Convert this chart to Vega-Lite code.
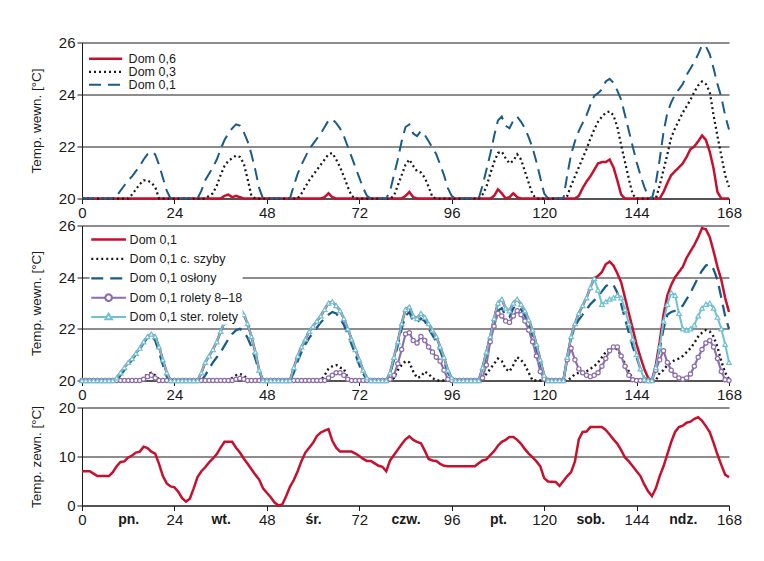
{
"$schema":"https://vega.github.io/schema/vega-lite/v6.json",
"background":"white",
"padding":{"left":29,"top":35.5,"right":30,"bottom":30},
"bounds":"flush",
"spacing":27,
"config":{
"font":"Liberation Sans",
"view":{"stroke":null},
"axis":{"labelFontSize":15,"labelColor":"#1a1a1a","titleFontSize":13.5,"titleFontWeight":"normal","titleColor":"#1a1a1a","domainColor":"#1a1a1a","tickColor":"#1a1a1a","gridColor":"#1a1a1a","gridOpacity":1,"gridWidth":1,"tickSize":5,"labelPadding":2,"labelFlush":false,"labelOverlap":false},
"axisY":{"titlePadding":15},
"legend":{"labelFontSize":12.5,"labelColor":"#1a1a1a"}
},
"datasets":{"d":[
{"h":0,"a":20,"b":20,"c":20,"d":20,"e":20,"f":20,"g":20,"t":7},
{"h":1,"a":20,"b":20,"c":20,"d":20,"e":20,"f":20,"g":20,"t":7},
{"h":2,"a":20,"b":20,"c":20,"d":20,"e":20,"f":20,"g":20,"t":7},
{"h":3,"a":20,"b":20,"c":20,"d":20,"e":20,"f":20,"g":20,"t":6.5},
{"h":4,"a":20,"b":20,"c":20,"d":20,"e":20,"f":20,"g":20,"t":6},
{"h":5,"a":20,"b":20,"c":20,"d":20,"e":20,"f":20,"g":20,"t":6},
{"h":6,"a":20,"b":20,"c":20,"d":20,"e":20,"f":20,"g":20,"t":6},
{"h":7,"a":20,"b":20,"c":20,"d":20,"e":20,"f":20,"g":20,"t":6},
{"h":8,"a":20,"b":20,"c":20,"d":20,"e":20,"f":20,"g":20,"t":6.8},
{"h":9,"a":20,"b":20,"c":20.1,"d":20,"e":20,"f":20,"g":20.1,"t":8},
{"h":10,"a":20,"b":20,"c":20.3,"d":20,"e":20.2,"f":20,"g":20.3,"t":8.9},
{"h":11,"a":20,"b":20,"c":20.5,"d":20,"e":20.4,"f":20,"g":20.5,"t":9},
{"h":12,"a":20,"b":20,"c":20.7,"d":20,"e":20.6,"f":20,"g":20.7,"t":9.8},
{"h":13,"a":20,"b":20.15,"c":20.85,"d":20,"e":20.8,"f":20,"g":20.85,"t":10.2},
{"h":14,"a":20,"b":20.35,"c":21.05,"d":20,"e":21,"f":20,"g":21.05,"t":10.8},
{"h":15,"a":20,"b":20.55,"c":21.25,"d":20,"e":21.2,"f":20,"g":21.25,"t":11},
{"h":16,"a":20,"b":20.7,"c":21.5,"d":20.1,"e":21.45,"f":20.05,"g":21.5,"t":12},
{"h":17,"a":20,"b":20.7,"c":21.7,"d":20.25,"e":21.65,"f":20.15,"g":21.7,"t":11.7},
{"h":18,"a":20,"b":20.6,"c":21.8,"d":20.3,"e":21.75,"f":20.2,"g":21.8,"t":11},
{"h":19,"a":20,"b":20.45,"c":21.7,"d":20.2,"e":21.55,"f":20.1,"g":21.7,"t":10.6},
{"h":20,"a":20,"b":20,"c":21.3,"d":20.05,"e":21.1,"f":20,"g":21.3,"t":8.5},
{"h":21,"a":20,"b":20,"c":20.8,"d":20,"e":20.6,"f":20,"g":20.8,"t":6},
{"h":22,"a":20,"b":20,"c":20.3,"d":20,"e":20.15,"f":20,"g":20.3,"t":4.5},
{"h":23,"a":20,"b":20,"c":20,"d":20,"e":20,"f":20,"g":20,"t":3.9},
{"h":24,"a":20,"b":20,"c":20,"d":20,"e":20,"f":20,"g":20,"t":3.7},
{"h":25,"a":20,"b":20,"c":20,"d":20,"e":20,"f":20,"g":20,"t":2.8},
{"h":26,"a":20,"b":20,"c":20,"d":20,"e":20,"f":20,"g":20,"t":1.5},
{"h":27,"a":20,"b":20,"c":20,"d":20,"e":20,"f":20,"g":20,"t":0.8},
{"h":28,"a":20,"b":20,"c":20,"d":20,"e":20,"f":20,"g":20,"t":1.4},
{"h":29,"a":20,"b":20,"c":20,"d":20,"e":20,"f":20,"g":20,"t":3.5},
{"h":30,"a":20,"b":20,"c":20,"d":20,"e":20,"f":20,"g":20,"t":5.8},
{"h":31,"a":20,"b":20,"c":20.3,"d":20,"e":20,"f":20,"g":20.3,"t":7},
{"h":32,"a":20,"b":20,"c":20.7,"d":20,"e":20.2,"f":20,"g":20.7,"t":7.8},
{"h":33,"a":20,"b":20.1,"c":20.95,"d":20,"e":20.45,"f":20,"g":20.95,"t":8.8},
{"h":34,"a":20,"b":20.2,"c":21.2,"d":20,"e":20.7,"f":20,"g":21.2,"t":9.6},
{"h":35,"a":20,"b":20.5,"c":21.5,"d":20,"e":20.9,"f":20,"g":21.5,"t":10.5},
{"h":36,"a":20,"b":20.9,"c":21.9,"d":20,"e":21.1,"f":20,"g":21.9,"t":11.8},
{"h":37,"a":20.1,"b":21.25,"c":22.25,"d":20,"e":21.35,"f":20,"g":22.25,"t":13},
{"h":38,"a":20.15,"b":21.45,"c":22.5,"d":20,"e":21.6,"f":20,"g":22.5,"t":13},
{"h":39,"a":20.05,"b":21.55,"c":22.7,"d":20.1,"e":21.8,"f":20,"g":22.7,"t":13},
{"h":40,"a":20.1,"b":21.65,"c":22.85,"d":20.2,"e":21.95,"f":20.05,"g":22.85,"t":11.8},
{"h":41,"a":20.05,"b":21.6,"c":22.8,"d":20.25,"e":22,"f":20.08,"g":22.8,"t":10.8},
{"h":42,"a":20,"b":21.35,"c":22.55,"d":20.2,"e":21.9,"f":20.05,"g":22.55,"t":9.6},
{"h":43,"a":20,"b":20.75,"c":22.2,"d":20.05,"e":21.65,"f":20,"g":22.2,"t":8.5},
{"h":44,"a":20,"b":20.1,"c":21.7,"d":20,"e":21.3,"f":20,"g":21.7,"t":7.4},
{"h":45,"a":20,"b":20,"c":21.1,"d":20,"e":20.85,"f":20,"g":21.1,"t":6.3},
{"h":46,"a":20,"b":20,"c":20.4,"d":20,"e":20.35,"f":20,"g":20.4,"t":5.3},
{"h":47,"a":20,"b":20,"c":20,"d":20,"e":20,"f":20,"g":20,"t":3.5},
{"h":48,"a":20,"b":20,"c":20,"d":20,"e":20,"f":20,"g":20,"t":2.6},
{"h":49,"a":20,"b":20,"c":20,"d":20,"e":20,"f":20,"g":20,"t":1.7},
{"h":50,"a":20,"b":20,"c":20,"d":20,"e":20,"f":20,"g":20,"t":0.6},
{"h":51,"a":20,"b":20,"c":20,"d":20,"e":20,"f":20,"g":20,"t":0},
{"h":52,"a":20,"b":20,"c":20,"d":20,"e":20,"f":20,"g":20,"t":0.2},
{"h":53,"a":20,"b":20,"c":20,"d":20,"e":20,"f":20,"g":20,"t":1.9},
{"h":54,"a":20,"b":20,"c":20,"d":20,"e":20,"f":20,"g":20,"t":3.8},
{"h":55,"a":20,"b":20,"c":20.5,"d":20,"e":20.3,"f":20,"g":20.5,"t":5.2},
{"h":56,"a":20,"b":20,"c":20.95,"d":20,"e":20.75,"f":20,"g":20.95,"t":7},
{"h":57,"a":20,"b":20.2,"c":21.3,"d":20,"e":21.1,"f":20,"g":21.3,"t":9.1},
{"h":58,"a":20,"b":20.45,"c":21.6,"d":20,"e":21.4,"f":20,"g":21.6,"t":10.8},
{"h":59,"a":20,"b":20.7,"c":21.9,"d":20,"e":21.65,"f":20,"g":21.9,"t":11.8},
{"h":60,"a":20,"b":20.9,"c":22.1,"d":20,"e":21.85,"f":20,"g":22.1,"t":12.8},
{"h":61,"a":20,"b":21.1,"c":22.3,"d":20,"e":22.05,"f":20,"g":22.3,"t":14.2},
{"h":62,"a":20,"b":21.3,"c":22.5,"d":20,"e":22.25,"f":20,"g":22.5,"t":14.9},
{"h":63,"a":20.05,"b":21.5,"c":22.75,"d":20.2,"e":22.4,"f":20,"g":22.75,"t":15.3},
{"h":64,"a":20.2,"b":21.7,"c":23,"d":20.45,"e":22.55,"f":20.1,"g":23,"t":15.6},
{"h":65,"a":20.05,"b":21.75,"c":23.05,"d":20.55,"e":22.65,"f":20.2,"g":23.05,"t":13.2},
{"h":66,"a":20,"b":21.5,"c":22.9,"d":20.6,"e":22.6,"f":20.3,"g":22.9,"t":11.8},
{"h":67,"a":20,"b":21.2,"c":22.7,"d":20.5,"e":22.4,"f":20.3,"g":22.7,"t":11},
{"h":68,"a":20,"b":20.85,"c":22.4,"d":20.45,"e":22.15,"f":20.2,"g":22.4,"t":11},
{"h":69,"a":20,"b":20.45,"c":22,"d":20.1,"e":21.8,"f":20.05,"g":22,"t":11},
{"h":70,"a":20,"b":20.1,"c":21.6,"d":20,"e":21.4,"f":20,"g":21.6,"t":11},
{"h":71,"a":20,"b":20,"c":21.2,"d":20,"e":21,"f":20,"g":21.2,"t":10.6},
{"h":72,"a":20,"b":20,"c":20.8,"d":20,"e":20.6,"f":20,"g":20.8,"t":10.1},
{"h":73,"a":20,"b":20,"c":20.4,"d":20,"e":20.25,"f":20,"g":20.4,"t":9.5},
{"h":74,"a":20,"b":20,"c":20.1,"d":20,"e":20.05,"f":20,"g":20.1,"t":9.1},
{"h":75,"a":20,"b":20,"c":20,"d":20,"e":20,"f":20,"g":20,"t":9.1},
{"h":76,"a":20,"b":20,"c":20,"d":20,"e":20,"f":20,"g":20,"t":8.6},
{"h":77,"a":20,"b":20,"c":20,"d":20,"e":20,"f":20,"g":20,"t":8.1},
{"h":78,"a":20,"b":20,"c":20,"d":20,"e":20,"f":20,"g":20,"t":7.9},
{"h":79,"a":20,"b":20,"c":20,"d":20,"e":20,"f":20,"g":20,"t":7},
{"h":80,"a":20,"b":20,"c":20.3,"d":20,"e":20.25,"f":20.05,"g":20.3,"t":9.2},
{"h":81,"a":20,"b":20.1,"c":20.9,"d":20.1,"e":20.8,"f":20.2,"g":20.9,"t":10.3},
{"h":82,"a":20,"b":20.5,"c":21.5,"d":20.4,"e":21.35,"f":20.65,"g":21.5,"t":11.4},
{"h":83,"a":20,"b":20.9,"c":22.2,"d":20.6,"e":22,"f":21.2,"g":22.2,"t":12.5},
{"h":84,"a":20.1,"b":21.3,"c":22.75,"d":20.75,"e":22.5,"f":21.8,"g":22.75,"t":13.5},
{"h":85,"a":20.25,"b":21.5,"c":22.85,"d":20.7,"e":22.65,"f":21.85,"g":22.85,"t":14.1},
{"h":86,"a":20.05,"b":21.25,"c":22.5,"d":20.35,"e":22.3,"f":21.55,"g":22.5,"t":13.4},
{"h":87,"a":20,"b":21.05,"c":22.4,"d":20.1,"e":22.25,"f":21.45,"g":22.4,"t":13},
{"h":88,"a":20,"b":21,"c":22.6,"d":20.15,"e":22.4,"f":21.7,"g":22.6,"t":12.7},
{"h":89,"a":20,"b":20.8,"c":22.45,"d":20.35,"e":22.3,"f":21.55,"g":22.45,"t":11.2},
{"h":90,"a":20,"b":20.45,"c":22.2,"d":20.25,"e":22,"f":21.3,"g":22.2,"t":9.5},
{"h":91,"a":20,"b":20.05,"c":21.95,"d":20.1,"e":21.75,"f":21.1,"g":21.95,"t":9.2},
{"h":92,"a":20,"b":20,"c":21.7,"d":20,"e":21.5,"f":20.9,"g":21.7,"t":9.1},
{"h":93,"a":20,"b":20,"c":21.3,"d":20,"e":21.15,"f":20.75,"g":21.3,"t":8.5},
{"h":94,"a":20,"b":20,"c":20.9,"d":20,"e":20.75,"f":20.4,"g":20.9,"t":8.1},
{"h":95,"a":20,"b":20,"c":20.4,"d":20,"e":20.3,"f":20.05,"g":20.4,"t":8},
{"h":96,"a":20,"b":20,"c":20.1,"d":20,"e":20.05,"f":20,"g":20.1,"t":8},
{"h":97,"a":20,"b":20,"c":20,"d":20,"e":20,"f":20,"g":20,"t":8},
{"h":98,"a":20,"b":20,"c":20,"d":20,"e":20,"f":20,"g":20,"t":8},
{"h":99,"a":20,"b":20,"c":20,"d":20,"e":20,"f":20,"g":20,"t":8},
{"h":100,"a":20,"b":20,"c":20,"d":20,"e":20,"f":20,"g":20,"t":8},
{"h":101,"a":20,"b":20,"c":20,"d":20,"e":20,"f":20,"g":20,"t":8},
{"h":102,"a":20,"b":20,"c":20,"d":20,"e":20,"f":20,"g":20,"t":8},
{"h":103,"a":20,"b":20,"c":20,"d":20,"e":20,"f":20,"g":20,"t":8.6},
{"h":104,"a":20,"b":20.15,"c":20.5,"d":20.1,"e":20.4,"f":20.1,"g":20.5,"t":9.2},
{"h":105,"a":20,"b":20.45,"c":21.1,"d":20.25,"e":21,"f":20.6,"g":21.1,"t":9.4},
{"h":106,"a":20,"b":20.95,"c":21.7,"d":20.45,"e":21.55,"f":21.5,"g":21.7,"t":10.3},
{"h":107,"a":20.1,"b":21.4,"c":22.4,"d":20.65,"e":22.2,"f":22.1,"g":22.4,"t":11.1},
{"h":108,"a":20.35,"b":21.75,"c":23,"d":20.85,"e":22.7,"f":22.6,"g":23,"t":12.2},
{"h":109,"a":20.2,"b":21.8,"c":23.15,"d":20.75,"e":22.8,"f":22.5,"g":23.15,"t":13},
{"h":110,"a":20,"b":21.55,"c":22.8,"d":20.45,"e":22.5,"f":22.3,"g":22.8,"t":13.4},
{"h":111,"a":20.05,"b":21.35,"c":22.7,"d":20.35,"e":22.45,"f":22.25,"g":22.7,"t":14},
{"h":112,"a":20.2,"b":21.45,"c":23,"d":20.6,"e":22.8,"f":22.5,"g":23,"t":14},
{"h":113,"a":20.05,"b":21.7,"c":23.15,"d":20.9,"e":22.9,"f":22.7,"g":23.15,"t":13.4},
{"h":114,"a":20,"b":21.5,"c":22.95,"d":20.8,"e":22.75,"f":22.55,"g":22.95,"t":12.6},
{"h":115,"a":20,"b":21.05,"c":22.7,"d":20.6,"e":22.5,"f":22.3,"g":22.7,"t":11.5},
{"h":116,"a":20,"b":20.6,"c":22.35,"d":20.3,"e":22.15,"f":21.95,"g":22.35,"t":10.6},
{"h":117,"a":20,"b":20.15,"c":21.95,"d":20,"e":21.7,"f":21.5,"g":21.95,"t":9.8},
{"h":118,"a":20,"b":20,"c":21.4,"d":20,"e":21.2,"f":20.95,"g":21.4,"t":9},
{"h":119,"a":20,"b":20,"c":20.8,"d":20,"e":20.65,"f":20.35,"g":20.8,"t":8},
{"h":120,"a":20,"b":20,"c":20.2,"d":20,"e":20.15,"f":20.05,"g":20.2,"t":5.6},
{"h":121,"a":20,"b":20,"c":20,"d":20,"e":20,"f":20,"g":20,"t":4.9},
{"h":122,"a":20,"b":20,"c":20,"d":20,"e":20,"f":20,"g":20,"t":4.85},
{"h":123,"a":20,"b":20,"c":20,"d":20,"e":20,"f":20,"g":20,"t":4.8},
{"h":124,"a":20,"b":20,"c":20,"d":20,"e":20,"f":20,"g":20,"t":4},
{"h":125,"a":20,"b":20,"c":20,"d":20,"e":20,"f":20,"g":20,"t":5},
{"h":126,"a":20,"b":20.1,"c":20.9,"d":20,"e":20.9,"f":20.8,"g":20.9,"t":6},
{"h":127,"a":20,"b":20.5,"c":21.7,"d":20.1,"e":21.65,"f":21.25,"g":21.7,"t":6.8},
{"h":128,"a":20,"b":20.85,"c":22.2,"d":20.25,"e":22.1,"f":20.8,"g":22.2,"t":9},
{"h":129,"a":20.1,"b":21.2,"c":22.6,"d":20.3,"e":22.35,"f":20.45,"g":22.6,"t":13.5},
{"h":130,"a":20.4,"b":21.55,"c":22.9,"d":20.3,"e":22.55,"f":20.3,"g":22.9,"t":15},
{"h":131,"a":20.65,"b":21.9,"c":23.2,"d":20.35,"e":22.75,"f":20.2,"g":23.2,"t":15.1},
{"h":132,"a":20.85,"b":22.3,"c":23.6,"d":20.45,"e":22.95,"f":20.15,"g":23.6,"t":16},
{"h":133,"a":21.1,"b":22.65,"c":23.95,"d":20.55,"e":23.1,"f":20.2,"g":23.95,"t":16},
{"h":134,"a":21.35,"b":22.95,"c":24.05,"d":20.7,"e":23.25,"f":20.3,"g":23.5,"t":16},
{"h":135,"a":21.4,"b":23.15,"c":24.2,"d":20.9,"e":23.45,"f":20.55,"g":22.95,"t":16},
{"h":136,"a":21.4,"b":23.3,"c":24.5,"d":21.1,"e":23.65,"f":20.85,"g":23.05,"t":15.4},
{"h":137,"a":21.5,"b":23.35,"c":24.6,"d":21.25,"e":23.75,"f":21.15,"g":23.15,"t":14.5},
{"h":138,"a":21.2,"b":23.2,"c":24.45,"d":21.3,"e":23.7,"f":21.3,"g":23.2,"t":13.5},
{"h":139,"a":20.7,"b":22.75,"c":24.15,"d":21.2,"e":23.4,"f":21.3,"g":23.3,"t":12.6},
{"h":140,"a":20.15,"b":22.05,"c":23.8,"d":20.95,"e":22.95,"f":20.95,"g":23.2,"t":11.3},
{"h":141,"a":20,"b":21.4,"c":23.2,"d":20.65,"e":22.4,"f":20.55,"g":22.75,"t":9.8},
{"h":142,"a":20,"b":20.75,"c":22.6,"d":20.35,"e":21.85,"f":20.2,"g":22.2,"t":9},
{"h":143,"a":20,"b":20.15,"c":22,"d":20.05,"e":21.3,"f":20.03,"g":21.6,"t":8},
{"h":144,"a":20,"b":20,"c":21.4,"d":20,"e":20.9,"f":20,"g":21,"t":7},
{"h":145,"a":20,"b":20,"c":20.9,"d":20,"e":20.45,"f":20,"g":20.45,"t":6},
{"h":146,"a":20,"b":20,"c":20.45,"d":20,"e":20.1,"f":20,"g":20.05,"t":4.3},
{"h":147,"a":20,"b":20,"c":20.1,"d":20,"e":20,"f":20,"g":20,"t":2.9},
{"h":148,"a":20,"b":20,"c":20,"d":20,"e":20,"f":20,"g":20,"t":1.9},
{"h":149,"a":20,"b":20,"c":20.6,"d":20,"e":20.5,"f":20.4,"g":20.5,"t":3.5},
{"h":150,"a":20,"b":20.5,"c":21.5,"d":20.3,"e":21.2,"f":20.8,"g":21.3,"t":6},
{"h":151,"a":20.25,"b":21.1,"c":22.55,"d":20.4,"e":22,"f":21.15,"g":22.3,"t":8},
{"h":152,"a":20.6,"b":21.7,"c":23.3,"d":20.6,"e":22.55,"f":20.7,"g":22.95,"t":10.5},
{"h":153,"a":20.9,"b":22.35,"c":23.7,"d":20.7,"e":22.65,"f":20.4,"g":23.4,"t":13},
{"h":154,"a":21.05,"b":22.7,"c":24,"d":20.8,"e":22.7,"f":20.2,"g":23.3,"t":15},
{"h":155,"a":21.2,"b":23,"c":24.2,"d":20.85,"e":22.8,"f":20.1,"g":22.6,"t":16},
{"h":156,"a":21.35,"b":23.3,"c":24.4,"d":20.95,"e":22.9,"f":20.05,"g":22,"t":16.3},
{"h":157,"a":21.6,"b":23.55,"c":24.75,"d":21.1,"e":23.15,"f":20.1,"g":21.95,"t":16.9},
{"h":158,"a":21.9,"b":23.8,"c":25,"d":21.25,"e":23.4,"f":20.25,"g":22,"t":17.1},
{"h":159,"a":22,"b":24.1,"c":25.25,"d":21.45,"e":23.7,"f":20.55,"g":22.15,"t":17.7},
{"h":160,"a":22.2,"b":24.35,"c":25.55,"d":21.7,"e":24,"f":20.9,"g":22.5,"t":18},
{"h":161,"a":22.42,"b":24.5,"c":25.9,"d":21.85,"e":24.25,"f":21.2,"g":22.8,"t":17.3},
{"h":162,"a":22.25,"b":24.4,"c":25.85,"d":21.95,"e":24.45,"f":21.45,"g":22.95,"t":16.2},
{"h":163,"a":21.8,"b":24.1,"c":25.55,"d":21.9,"e":24.5,"f":21.55,"g":23,"t":15},
{"h":164,"a":21.15,"b":23.2,"c":25,"d":21.7,"e":24.3,"f":21.3,"g":22.8,"t":12.8},
{"h":165,"a":20.25,"b":22.4,"c":24.4,"d":21.3,"e":23.9,"f":20.85,"g":22.45,"t":10.4},
{"h":166,"a":20,"b":21.65,"c":23.9,"d":20.75,"e":23.2,"f":20.35,"g":22,"t":8.3},
{"h":167,"a":20,"b":20.9,"c":23.2,"d":20.3,"e":22.5,"f":20.03,"g":21.4,"t":6.3},
{"h":168,"a":20,"b":20.45,"c":22.65,"d":20.05,"e":22,"f":20,"g":20.7,"t":5.8}
]},
"vconcat":[
{
"width":647,"height":156,
"data":{"name":"d"},
"transform":[{"fold":["a","b","c"],"as":["k","v"]}],
"mark":{"type":"line","strokeCap":"butt"},
"encoding":{
"x":{"field":"h","type":"quantitative","scale":{"domain":[0,168],"nice":false,"zero":false},"axis":{"values":[0,24,48,72,96,120,144,168],"grid":false,"title":null}},
"y":{"field":"v","type":"quantitative","scale":{"domain":[20,26],"nice":false,"zero":false},"axis":{"values":[20,22,24,26],"grid":true,"title":"Temp. wewn. [°C]"}},
"color":{"field":"k","type":"nominal","scale":{"domain":["a","b","c"],"range":["#c8102e","#1a1a1a","#1b5b8a"]},
"legend":{"orient":"none","legendX":5.6,"legendY":10,"title":null,"direction":"vertical","labelExpr":"{'a':'Dom 0,6','b':'Dom 0,3','c':'Dom 0,1'}[datum.label]","symbolType":"stroke","symbolSize":1100,"symbolStrokeWidth":2.5,"clipHeight":12.5,"rowPadding":0,"labelOffset":5,"padding":0}},
"strokeDash":{"field":"k","type":"nominal","scale":{"domain":["a","b","c"],"range":[[1,0],[2,3],[12,7]]}},
"strokeWidth":{"field":"k","type":"nominal","scale":{"domain":["a","b","c"],"range":[2.5,2,3]},"legend":null}
}
},
{
"width":647,"height":155,
"data":{"name":"d"},
"transform":[{"fold":["c","d","e","f","g"],"as":["k","v"]}],
"encoding":{
"x":{"field":"h","type":"quantitative","scale":{"domain":[0,168],"nice":false,"zero":false},"axis":{"values":[0,24,48,72,96,120,144,168],"grid":false,"title":null}},
"y":{"field":"v","type":"quantitative","scale":{"domain":[20,26],"nice":false,"zero":false},"axis":{"values":[20,22,24,26],"grid":true,"title":"Temp. wewn. [°C]"}}
},
"layer":[
{"mark":{"type":"line","strokeCap":"butt"},
"encoding":{
"color":{"field":"k","type":"nominal","scale":{"domain":["c","d","e","f","g"],"range":["#c8102e","#1a1a1a","#1b5b8a","#8c6dac","#6fc0d3"]},
"legend":{"orient":"none","legendX":7.6,"legendY":7,"title":null,"direction":"vertical","labelExpr":"{'c':'Dom 0,1','d':'Dom 0,1 c. szyby','e':'Dom 0,1 osłony','f':'Dom 0,1 rolety 8–18','g':'Dom 0,1 ster. rolety'}[datum.label]","symbolType":"stroke","symbolSize":1204,"symbolStrokeWidth":2.5,"clipHeight":14,"rowPadding":5.4,"labelOffset":2,"padding":0,"fillColor":"white",
"encode":{"symbols":{"update":{"shape":{"signal":"datum.value === 'f' ? 'M-1,0L-0.19,0M0.19,0L1,0M-0.19,0A0.19,0.19,0,1,1,0.19,0A0.19,0.19,0,1,1,-0.19,0Z' : datum.value === 'g' ? 'M-1,0L-0.17,0M0.17,0L1,0M0,-0.2L0.19,0.13L-0.19,0.13Z' : 'stroke'"},"fill":{"value":"white"}}}}}},
"strokeDash":{"field":"k","type":"nominal","scale":{"domain":["c","d","e","f","g"],"range":[[1,0],[2,3],[12,7],[1,0],[1,0]]}},
"strokeWidth":{"field":"k","type":"nominal","scale":{"domain":["c","d","e","f","g"],"range":[2.5,2,3,2.5,2.5]},"legend":null}
}},
{"transform":[{"filter":"datum.k === 'f'"}],
"mark":{"type":"point","shape":"circle","filled":true,"fill":"white","stroke":"#8c6dac","strokeWidth":1.2,"size":18,"opacity":1}},
{"transform":[{"filter":"datum.k === 'g'"}],
"mark":{"type":"point","shape":"triangle-up","filled":true,"fill":"white","stroke":"#6fc0d3","strokeWidth":1.2,"size":22,"opacity":1}}
]
},
{
"width":647,"height":98,
"data":{"name":"d"},
"mark":{"type":"line","color":"#c8102e","strokeWidth":2.5},
"encoding":{
"x":{"field":"h","type":"quantitative","scale":{"domain":[0,168],"nice":false,"zero":false},"axis":{"values":[0,12,24,36,48,60,72,84,96,108,120,132,144,156,168],"grid":false,"title":null,
"labelExpr":"datum.value % 24 == 12 ? ['pn.','wt.','śr.','czw.','pt.','sob.','ndz.'][floor(datum.value/24)] : datum.label",
"labelFontWeight":{"condition":{"test":"datum.value % 24 == 12","value":"bold"},"value":"normal"},
"labelFontSize":{"condition":{"test":"datum.value % 24 == 12","value":14},"value":15},
"tickOpacity":{"condition":{"test":"datum.value % 24 == 12","value":0},"value":1}}},
"y":{"field":"t","type":"quantitative","scale":{"domain":[0,20],"nice":false,"zero":false},"axis":{"values":[0,10,20],"grid":true,"title":"Temp. zewn. [°C]"}}
}
}
],
"resolve":{"scale":{"color":"independent","strokeDash":"independent","strokeWidth":"independent"}}
}
